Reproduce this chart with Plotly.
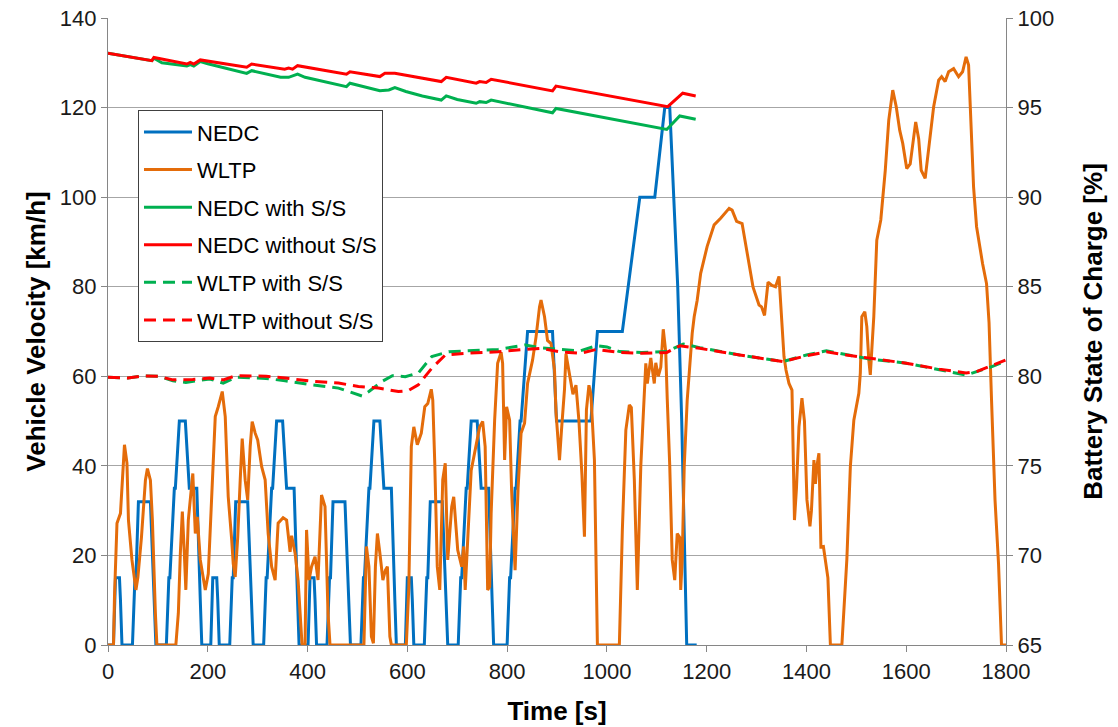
import plotly.graph_objects as go

# ---------------- data ----------------
nedc_t = [0, 11, 15, 23, 25, 28, 49, 54, 56, 61, 85, 93, 96, 117, 122, 124, 133, 135, 143, 155, 163, 176, 178, 185, 188,
          195, 206, 210, 218, 220, 223, 244, 249, 251, 256, 280, 288, 291, 312, 317, 319, 328, 330, 338, 350, 358, 371, 373, 380, 383,
          390, 401, 405, 413, 415, 418, 439, 444, 446, 451, 475, 483, 486, 507, 512, 514, 523, 525, 533, 545, 553, 566, 568, 575, 578,
          585, 596, 600, 608, 610, 613, 634, 639, 641, 646, 670, 678, 681, 702, 707, 709, 718, 720, 728, 740, 748, 761, 763, 770, 773,
          780, 800, 805, 807, 816, 818, 826, 828, 841, 891, 899, 968, 981, 1031, 1066, 1096, 1116, 1126, 1142, 1150, 1160, 1180]
nedc_v = [0, 0, 15, 15, 10, 0, 0, 15, 15, 32, 32, 10, 0, 0, 15, 15, 35, 35, 50, 50, 35, 35, 35, 10, 0,
          0, 0, 15, 15, 10, 0, 0, 15, 15, 32, 32, 10, 0, 0, 15, 15, 35, 35, 50, 50, 35, 35, 35, 10, 0,
          0, 0, 15, 15, 10, 0, 0, 15, 15, 32, 32, 10, 0, 0, 15, 15, 35, 35, 50, 50, 35, 35, 35, 10, 0,
          0, 0, 15, 15, 10, 0, 0, 15, 15, 32, 32, 10, 0, 0, 15, 15, 35, 35, 50, 50, 35, 35, 35, 10, 0,
          0, 0, 15, 15, 35, 35, 50, 50, 70, 70, 50, 50, 70, 70, 100, 100, 120, 120, 80, 50, 0, 0]

wltp_t = [0, 11, 13, 18, 25, 33, 38, 41, 48, 56, 60, 67, 75, 79, 85, 89, 95, 98,
          136, 141, 145, 149, 153, 156, 161, 170, 175, 179, 185, 195, 201, 208, 215, 221, 229, 235, 241, 248, 251, 255,
          260, 265, 269, 275, 280, 285, 289, 295, 300, 308, 315, 321, 328, 335, 341, 351, 358, 365, 368, 375, 381, 389,
          395, 398, 403, 408, 415, 421, 428, 435, 441, 445, 513, 518, 523, 528, 532, 536, 540, 545, 551, 556, 560, 565,
          568, 598, 603, 608, 613, 620, 628, 635, 641, 648, 651, 655, 660, 665, 671, 676, 681, 689, 693, 701, 709, 713,
          716, 728, 738, 745, 751, 756, 761, 765, 768, 775, 781, 788, 791, 795, 799, 805, 809, 816, 822, 828, 835, 841,
          851, 858, 865, 868, 875, 881, 888, 895, 898, 905, 909, 915, 918, 925, 932, 938, 944, 950, 955, 959, 964, 968,
          975, 981, 1025, 1031, 1038, 1045, 1049, 1055, 1061, 1068, 1074, 1078, 1081, 1088, 1095, 1098, 1103, 1108,
          1113, 1118, 1121, 1126, 1131, 1136, 1141, 1146, 1148, 1151, 1155, 1161, 1171, 1175, 1181, 1188, 1201, 1215,
          1228, 1245, 1251, 1260, 1271, 1281, 1293, 1305, 1310, 1316, 1323, 1331, 1338, 1345, 1349, 1355, 1359, 1365,
          1371, 1376, 1380, 1385, 1391, 1396, 1401, 1407, 1410, 1415, 1418, 1421, 1425, 1429, 1434, 1438, 1443, 1448,
          1471, 1481, 1488, 1495, 1505, 1508, 1511, 1517, 1521, 1525, 1528, 1531, 1535, 1541, 1549, 1558, 1565, 1573,
          1580, 1587, 1593, 1601, 1608, 1615, 1619, 1625, 1630, 1638, 1647, 1655, 1665, 1671, 1678, 1685, 1695, 1705,
          1713, 1720, 1725, 1729, 1735, 1741, 1745, 1753, 1761, 1766, 1771, 1778, 1785, 1791, 1800]
wltp_v = [0, 0, 10.8, 27.2, 29.4, 44.7, 40.6, 27.9, 19.0, 12.3, 15.2, 24.0, 36.8, 39.4, 36.8, 27.9, 7.1, 0,
          0, 7.1, 20.5, 29.8, 20.5, 12.3, 27.9, 38.3, 24.9, 28.6, 19.0, 12.3, 15.9, 34.6, 51.0, 53.2, 56.6, 51.0, 33.1, 23.4, 18.2, 15.2,
          24.0, 36.8, 46.1, 36.8, 32.4, 44.3, 49.9, 47.3, 45.8, 39.8, 36.9, 24.9, 17.5, 14.5, 27.2, 28.4, 27.9, 20.8, 24.4, 20.5, 14.5, 0,
          0, 25.7, 14.5, 17.5, 19.7, 14.5, 33.5, 30.9, 7.1, 0, 0, 22.0, 17.5, 1.9, 0.4, 17.5, 24.9, 20.5, 14.5, 16.7, 17.5, 1.9,
          0, 0, 13.0, 44.3, 48.7, 44.7, 47.3, 53.2, 53.9, 57.1, 54.7, 40.6, 17.5, 12.3, 36.9, 40.6, 19.0, 30.9, 33.1, 21.2, 17.5, 22.0,
          12.3, 39.0, 44.3, 48.7, 49.9, 44.3, 12.3, 13.0, 29.4, 50.2, 62.9, 65.4, 62.9, 41.3, 53.2, 50.2, 34.6, 16.7, 35.0, 47.3, 49.5, 58.4,
          63.6, 68.8, 75.5, 77.0, 73.3, 68.0, 67.3, 61.4, 52.0, 41.3, 48.0, 57.0, 65.0, 60.0, 56.0, 58.0, 50.0, 38.0, 24.2, 52.5, 58.0, 56.0,
          41.3, 0, 0, 25.7, 48.0, 53.6, 53.0, 36.9, 12.3, 40.0, 56.0, 62.9, 58.4, 64.1, 58.4, 63.0, 60.0, 62.0,
          70.5, 65.4, 54.9, 40.0, 19.0, 14.5, 24.9, 24.0, 12.3, 19.1, 39.8, 54.7, 69.6, 73.3, 77.0, 83.0, 89.0, 93.8,
          95.3, 97.5, 97.1, 94.6, 94.1, 87.4, 79.9, 75.9, 75.5, 73.6, 81.0, 80.3, 80.0, 82.3, 75.5, 64.4, 61.4, 58.4,
          56.9, 27.9, 35.0, 48.7, 55.1, 50.0, 32.4, 26.5, 30.0, 41.3, 36.0, 40.0, 42.8, 21.9, 22.0, 19.1, 15.0, 0,
          0, 19.1, 39.8, 50.2, 56.2, 60.7, 73.3, 74.4, 71.1, 63.6, 60.3, 65.9, 73.3, 90.4, 94.9, 106.0, 117.2, 123.9,
          120.2, 114.9, 112.0, 106.4, 107.4, 113.4, 116.8, 113.0, 106.0, 104.2, 113.4, 120.2, 126.1, 126.9, 125.8, 128.0, 128.7, 126.9,
          128.0, 131.3, 129.5, 118.7, 102.3, 93.4, 90.4, 85.2, 80.7, 72.0, 54.7, 32.4, 18.2, 0, 0]

nedc_ss_t = [0, 88, 92, 108, 158, 165, 172, 185, 200, 278, 288, 346, 362, 380, 395, 478, 485, 545, 563, 575, 597, 630,
             668, 678, 700, 738, 745, 758, 768, 891, 898, 1106, 1120, 1146, 1178]
nedc_ss_soc = [98.03, 97.62, 97.75, 97.50, 97.32, 97.40, 97.32, 97.57, 97.45, 96.91, 97.06, 96.69, 96.69, 96.87, 96.69,
               96.17, 96.36, 95.94, 95.98, 96.11, 95.90, 95.65, 95.42, 95.65, 95.45, 95.24, 95.33, 95.28, 95.42, 94.71,
               94.95, 93.84, 93.78, 94.53, 94.35]

nedc_noss_t = [0, 88, 92, 158, 165, 172, 185, 278, 288, 354, 362, 370, 380, 478, 485, 545, 555, 575, 668, 678, 738,
               745, 758, 768, 891, 898, 1122, 1152, 1178]
nedc_noss_soc = [98.03, 97.62, 97.80, 97.43, 97.52, 97.43, 97.66, 97.25, 97.43, 97.14, 97.20, 97.14, 97.34, 96.86,
                 97.00, 96.73, 96.91, 96.91, 96.45, 96.69, 96.36, 96.45, 96.40, 96.58, 95.93, 96.20, 95.05, 95.80, 95.65]

wltp_ss_t = [0, 40, 68, 101, 130, 156, 204, 231, 257, 317, 355, 409, 462, 509, 523, 550, 570, 596, 622, 649, 683, 716,
             782, 836, 866, 906, 946, 979, 1000, 1025, 1070, 1120, 1153, 1186, 1266, 1353, 1400, 1440, 1480, 1526, 1600,
             1666, 1720, 1773, 1800]
wltp_ss_soc = [79.95, 79.90, 80.02, 80.00, 79.75, 79.66, 79.85, 79.62, 79.95, 79.88, 79.75, 79.52, 79.34, 78.90, 79.15,
               79.72, 80.03, 79.98, 80.18, 81.10, 81.37, 81.42, 81.50, 81.75, 81.60, 81.50, 81.42, 81.70, 81.64, 81.38,
               81.33, 81.38, 81.80, 81.60, 81.19, 80.82, 81.19, 81.42, 81.20, 80.97, 80.73, 80.35, 80.07, 80.55, 80.85]

wltp_noss_t = [0, 40, 68, 101, 130, 170, 204, 231, 257, 317, 355, 409, 462, 502, 542, 582, 602, 622, 649, 676, 716, 782,
               836, 866, 906, 946, 979, 1025, 1070, 1120, 1146, 1186, 1266, 1353, 1393, 1440, 1480, 1526, 1600, 1666,
               1720, 1740, 1773, 1800]
wltp_noss_soc = [79.95, 79.90, 80.02, 80.00, 79.80, 79.82, 79.90, 79.80, 80.04, 80.00, 79.90, 79.72, 79.62, 79.43, 79.34,
                 79.15, 79.20, 79.52, 80.45, 81.19, 81.28, 81.37, 81.50, 81.56, 81.37, 81.28, 81.50, 81.33, 81.28, 81.33,
                 81.70, 81.56, 81.19, 80.82, 81.10, 81.37, 81.19, 81.00, 80.73, 80.40, 80.18, 80.25, 80.63, 80.91]

x_ticks = [0, 200, 400, 600, 800, 1000, 1200, 1400, 1600, 1800]
y_ticks = [0, 20, 40, 60, 80, 100, 120, 140]
y2_ticks = [65, 70, 75, 80, 85, 90, 95, 100]

# ---------------- figure ----------------
BLUE = "#0070C0"
ORANGE = "#E46C0A"
GREEN = "#00B050"
RED = "#FF0000"
DASH = "12px,7px"
FONT = "Liberation Sans, Arial, sans-serif"

fig = go.Figure()
fig.add_trace(go.Scatter(x=nedc_t, y=nedc_v, name="NEDC", mode="lines", legendgroup="a",
                         line=dict(color=BLUE, width=3)))
fig.add_trace(go.Scatter(x=wltp_t, y=wltp_v, name="WLTP", mode="lines", legendgroup="b",
                         line=dict(color=ORANGE, width=3)))
fig.add_trace(go.Scatter(x=nedc_ss_t, y=nedc_ss_soc, name="NEDC with S/S", mode="lines", yaxis="y2", legendgroup="c",
                         line=dict(color=GREEN, width=3)))
fig.add_trace(go.Scatter(x=nedc_noss_t, y=nedc_noss_soc, name="NEDC without S/S", mode="lines", yaxis="y2", legendgroup="d",
                         line=dict(color=RED, width=3)))
fig.add_trace(go.Scatter(x=wltp_ss_t, y=wltp_ss_soc, name="WLTP with S/S", mode="lines", yaxis="y2", legendgroup="e",
                         line=dict(color=GREEN, width=3, dash=DASH)))
fig.add_trace(go.Scatter(x=wltp_noss_t, y=wltp_noss_soc, name="WLTP without S/S", mode="lines", yaxis="y2", legendgroup="f",
                         line=dict(color=RED, width=3, dash=DASH)))

AXCOL = "#868686"
TICKFONT = dict(family=FONT, size=22, color="#1a1a1a")
TITLEFONT = dict(family=FONT, size=26, color="#000000", weight="bold")

fig.update_layout(
    width=1118, height=727,
    margin=dict(l=108, r=112, t=18, b=82, autoexpand=False),
    paper_bgcolor="white", plot_bgcolor="white",
    showlegend=True,
    legend=dict(x=0.0334, y=0.853, xanchor="left", yanchor="top",
                bgcolor="white", bordercolor="#404040", borderwidth=1,
                font=dict(family=FONT, size=22, color="#000000"),
                tracegroupgap=6, itemwidth=48),
    xaxis=dict(range=[0, 1800], tickvals=x_ticks, ticks="outside", ticklen=6, tickcolor=AXCOL,
               showline=True, linecolor=AXCOL, linewidth=1.3, showgrid=False, zeroline=False,
               tickfont=TICKFONT, automargin=False,
               title=dict(text="Time [s]", font=TITLEFONT, standoff=19)),
    yaxis=dict(range=[0, 140], tickvals=y_ticks, ticks="outside", ticklen=6, tickcolor=AXCOL,
               showline=True, linecolor=AXCOL, linewidth=1.3, showgrid=True, gridcolor="#A6A6A6",
               gridwidth=1.2, zeroline=False, tickfont=TICKFONT, automargin=False,
               title=dict(text="Vehicle Velocity [km/h]", font=TITLEFONT, standoff=6)),
    yaxis2=dict(range=[65, 100], tickvals=y2_ticks, overlaying="y", side="right",
                ticks="outside", ticklen=6, tickcolor=AXCOL,
                showline=True, linecolor=AXCOL, linewidth=1.3, showgrid=False, zeroline=False,
                tickfont=TICKFONT, automargin=False,
                title=dict(text="Battery State of Charge [%]", font=TITLEFONT, standoff=30)),
)

fig.write_html("out.html", config={"displayModeBar": False},
               post_script="document.body.style.margin='0';document.body.style.overflow='hidden';")
